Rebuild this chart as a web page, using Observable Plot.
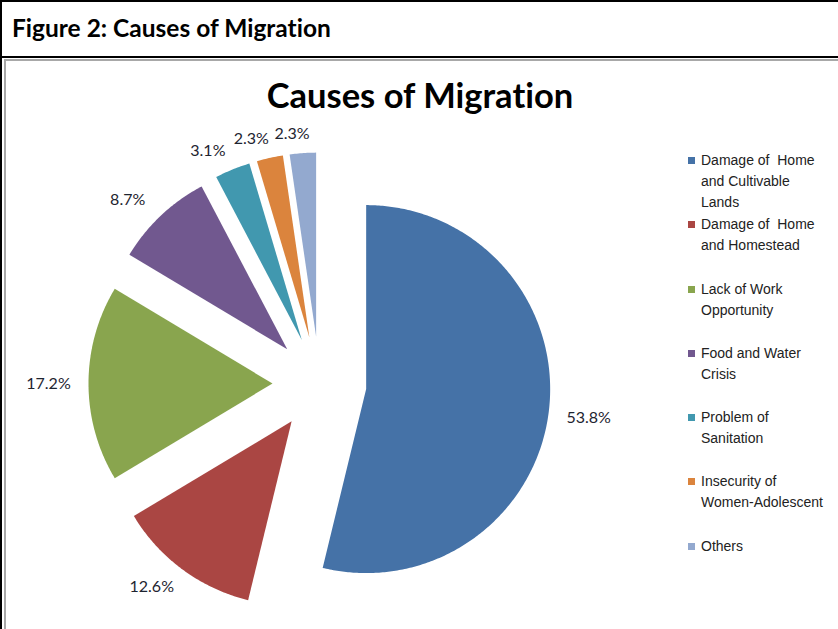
<!DOCTYPE html>
<html>
<head>
<meta charset="utf-8">
<script src="https://cdn.jsdelivr.net/npm/d3@7"></script>
<script src="https://cdn.jsdelivr.net/npm/@observablehq/plot@0.6"></script>
<style>
  body { margin: 0; background: #fff; }
  #fig { position: relative; width: 838px; height: 629px; overflow: hidden; background: #fff; font-variant-ligatures: none; }
  .rule { position: absolute; }
  #head { position: absolute; left: 12px; top: 13px; font: bold 24.5px Lato, sans-serif; color: #000; white-space: nowrap; font-variant-ligatures: none; }
  #title { position: absolute; left: 0; width: 840px; text-align: center; top: 74px; font: bold 34.5px Lato, sans-serif; color: #000; font-variant-ligatures: none; }
  #chart { position: absolute; left: 0; top: 0; }
  #legend { position: absolute; left: 688px; top: 150px; font: 14px "Liberation Sans", Arial, sans-serif; color: #222; }
  .item { display: flex; height: 64.3px; align-items: flex-start; }
  .sw { width: 7px; height: 7px; margin-top: 7px; margin-right: 6px; flex: none; }
  .txt { line-height: 21px; white-space: pre; }
</style>
</head>
<body>
<div id="fig">
  <div id="chart"></div>
  <div class="rule" style="left:0;top:0;width:838px;height:2px;background:#000"></div>
  <div class="rule" style="left:0;top:0;width:2px;height:629px;background:#000"></div>
  <div class="rule" style="left:0;top:56px;width:838px;height:2px;background:#000"></div>
  <div class="rule" style="left:4px;top:59px;width:834px;height:2px;background:#a8a8a8"></div>
  <div class="rule" style="left:4px;top:59px;width:2px;height:570px;background:#a8a8a8"></div>
  <div id="head">Figure 2: Causes of Migration</div>
  <div id="title">Causes of Migration</div>
  <div id="legend"></div>
</div>
<script>
// Causes of migration, share of respondents (%)
const categories = [
  "Damage of Home and Cultivable Lands",
  "Damage of Home and Homestead",
  "Lack of Work Opportunity",
  "Food and Water Crisis",
  "Problem of Sanitation",
  "Insecurity of Women-Adolescent",
  "Others"
];
const shares = [53.8, 12.6, 17.2, 8.7, 3.1, 2.3, 2.3];
const shareLabels = ["53.8%", "12.6%", "17.2%", "8.7%", "3.1%", "2.3%", "2.3%"];
const legendLines = [
  "Damage of  Home\nand Cultivable\nLands",
  "Damage of  Home\nand Homestead",
  "Lack of Work\nOpportunity",
  "Food and Water\nCrisis",
  "Problem of\nSanitation",
  "Insecurity of\nWomen-Adolescent",
  "Others"
];
const colors = ["#4572A7", "#AA4643", "#89A54E", "#71588F", "#4198AF", "#DB843D", "#93A9CF"];

// Layout of the pie inside the figure (pixels)
const W = 838, H = 629;
const cx = 319, cy = 383, R = 184;   // centre and radius
const explode = 47 / R;              // every slice pulled out from the centre
const labelPadX = 40, labelPadY = 19; // label box clearance beyond the slice edge

// Slice angles, clockwise from twelve o'clock
const arcs = d3.pie().sort(null).value(d => d)(shares);

// Outline of each exploded slice in unit-radius coordinates (y up)
const outline = [];
arcs.forEach((a, i) => {
  const mid = (a.startAngle + a.endAngle) / 2;
  const ox = explode * Math.sin(mid), oy = explode * Math.cos(mid);
  outline.push({cat: categories[i], x: ox, y: oy});
  const n = Math.max(8, Math.ceil((a.endAngle - a.startAngle) / 0.01));
  for (let k = 0; k <= n; ++k) {
    const t = a.startAngle + (a.endAngle - a.startAngle) * k / n;
    outline.push({cat: categories[i], x: ox + Math.sin(t), y: oy + Math.cos(t)});
  }
});

// Value labels placed just outside the outer end of each slice
const labelRows = arcs.map((a, i) => {
  const mid = (a.startAngle + a.endAngle) / 2;
  const s = Math.sin(mid), c = Math.cos(mid);
  const edge = 1 + explode;
  return {
    label: shareLabels[i],
    x: edge * s + Math.sign(s) * Math.sqrt(Math.abs(s)) * labelPadX / R,
    y: edge * c + Math.sign(c) * Math.sqrt(Math.abs(c)) * labelPadY / R
  };
});

const chart = Plot.plot({
  width: W,
  height: H,
  margin: 0,
  x: {domain: [-cx / R, (W - cx) / R], axis: null},
  y: {domain: [(cy - H) / R, cy / R], axis: null},
  color: {domain: categories, range: colors},
  style: {background: "transparent", overflow: "visible"},
  marks: [
    Plot.line(outline, {x: "x", y: "y", z: "cat", fill: "cat", stroke: "none", curve: "linear-closed"}),
    Plot.text(labelRows, {x: "x", y: "y", text: "label", fontSize: 16, fontFamily: "Lato, sans-serif", fill: "#1e2430"})
  ]
});
document.getElementById("chart").appendChild(chart);

// Legend
const legend = d3.select("#legend");
categories.forEach((c, i) => {
  const item = legend.append("div").attr("class", "item");
  item.append("div").attr("class", "sw").style("background", colors[i]);
  item.append("div").attr("class", "txt").text(legendLines[i]);
});
</script>
</body>
</html>
